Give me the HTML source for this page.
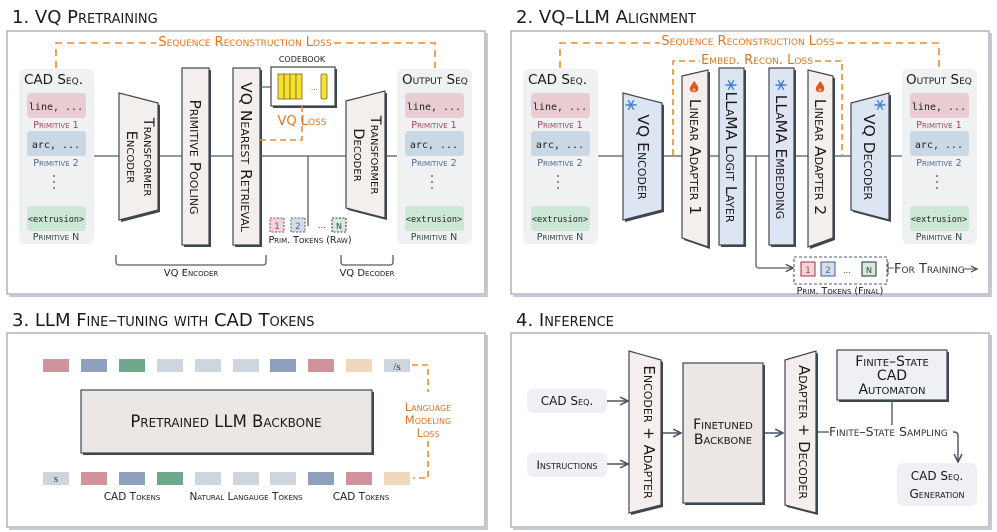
<!DOCTYPE html>
<html><head><meta charset="utf-8"><style>
html,body{margin:0;padding:0;background:#fff;}
svg{display:block;font-family:"DejaVu Sans","Liberation Sans",sans-serif;}
.sc{font-variant:small-caps;}
.mono{font-family:"DejaVu Sans Mono","Liberation Mono",monospace;}
</style></head><body>
<svg width="997" height="532" viewBox="0 0 997 532" xmlns="http://www.w3.org/2000/svg">
<defs>
<marker id="ar" viewBox="0 0 10 10" refX="9" refY="5" markerWidth="7" markerHeight="7" orient="auto"><path d="M1,1 L9,5 L1,9" fill="none" stroke="#4a5260" stroke-width="1.6"/></marker>
<g id="snow" stroke="#3d7fd0" stroke-width="1.4" stroke-linecap="round"><line x1="-5" y1="0" x2="5" y2="0"/><line x1="-2.5" y1="-4.3" x2="2.5" y2="4.3"/><line x1="2.5" y1="-4.3" x2="-2.5" y2="4.3"/></g>
<g id="fire"><path d="M0,-6 C3,-2 5,0 4,3 C3,6 -3,6 -4,3 C-5,0 -2,-2 0,-6Z" fill="#e5502a"/><circle cx="0" cy="3" r="1.6" fill="#f8b040"/></g>
</defs>

<!-- titles -->
<g font-size="18" fill="#1a1a1a" class="sc">
<text x="12" y="23">1. VQ Pretraining</text>
<text x="516" y="23">2. VQ–LLM Alignment</text>
<text x="12" y="326">3. LLM Fine–tuning with CAD Tokens</text>
<text x="516" y="326">4. Inference</text>
</g>

<!-- panel boxes -->
<g fill="#fff" stroke="#9aa2ad" stroke-width="1.2">
<rect x="7" y="31" width="478" height="263" /><rect x="511" y="31" width="478" height="263"/>
<rect x="7" y="333" width="478" height="194"/><rect x="511" y="333" width="478" height="194"/>
</g>
<g stroke="#c5cad2" stroke-width="2" fill="none">
<polyline points="487,33 487,296 9,296"/><polyline points="991,33 991,296 513,296"/>
<polyline points="487,335 487,529 9,529"/><polyline points="991,335 991,529 513,529"/>
</g>

<!-- ===== Panel 1 ===== -->
<path d="M56,68 V43 H156 M334,43 H435 V68" fill="none" stroke="#ef8a2a" stroke-width="1.6" stroke-dasharray="7,5"/>
<text x="245" y="46" text-anchor="middle" font-size="13" fill="#e07622" class="sc">Sequence Reconstruction Loss</text>
<line x1="93" y1="156" x2="397" y2="156" stroke="#555c66" stroke-width="1.3"/>
<line x1="308" y1="156" x2="308" y2="226" stroke="#555c66" stroke-width="1.3"/>

<g id="seq1">
<rect x="19" y="69" width="75" height="175" rx="6" fill="#f0f1f3"/>
<rect x="27" y="93" width="59" height="25" rx="3" fill="#e9cdd2"/>
<rect x="27" y="131" width="59" height="25" rx="3" fill="#c9d8e4"/>
<rect x="27" y="206" width="59" height="25" rx="3" fill="#cde7d6"/>
<text x="56" y="110" text-anchor="middle" font-size="10" class="mono" fill="#222">line, ...</text>
<text x="56" y="148" text-anchor="middle" font-size="10" class="mono" fill="#222">arc, ...</text>
<text x="56" y="222" text-anchor="middle" font-size="8.5" class="mono" fill="#222">&lt;extrusion&gt;</text>
<text x="56" y="128" text-anchor="middle" font-size="9.5" class="sc" fill="#b0405a">Primitive 1</text>
<text x="56" y="166" text-anchor="middle" font-size="9.5" class="sc" fill="#55679a">Primitive 2</text>
<text x="56" y="240" text-anchor="middle" font-size="9.5" class="sc" fill="#2d4a3a">Primitive N</text>
<g fill="#444"><circle cx="54" cy="176" r="0.9"/><circle cx="54" cy="182" r="0.9"/><circle cx="54" cy="188" r="0.9"/></g>
</g>
<text x="24" y="84" font-size="13.5" class="sc" fill="#1a1a1a">CAD Seq.</text>
<use href="#seq1" x="378"/>
<text x="402" y="84" font-size="13.5" class="sc" fill="#1a1a1a">Output Seq</text>

<!-- shadows -->
<g fill="#3f4650">
<polygon points="121,95 160,105 160,212 121,222"/>
<rect x="184" y="70" width="27" height="177"/><rect x="235" y="70" width="27" height="177"/>
<polygon points="348,103 387,93 387,220 348,210"/>
</g>
<g fill="#f4efed" stroke="#3f4650" stroke-width="1.2">
<polygon points="119,93 158,103 158,210 119,220"/>
<rect x="182" y="68" width="27" height="177"/><rect x="233" y="68" width="27" height="177"/>
<polygon points="346,101 385,91 385,218 346,208"/>
</g>
<g font-size="14.5" class="sc" fill="#1a1a1a" text-anchor="middle">
<text transform="translate(144,157) rotate(90)">Transformer</text>
<text transform="translate(127,157) rotate(90)">Encoder</text>
<text transform="translate(371,155) rotate(90)">Transformer</text>
<text transform="translate(354,155) rotate(90)">Decoder</text>
</g>
<g font-size="15.5" class="sc" fill="#1a1a1a" text-anchor="middle">
<text transform="translate(190,157) rotate(90)">Primitive Pooling</text>
<text transform="translate(241,157) rotate(90)">VQ Nearest Retrieval</text>
</g>
<!-- codebook -->
<text x="302" y="62" text-anchor="middle" font-size="8" fill="#222">CODEBOOK</text>
<line x1="260" y1="87" x2="271" y2="87" stroke="#555c66" stroke-width="1.2"/>
<rect x="273" y="69" width="64" height="39" fill="#3f4650"/>
<rect x="271" y="67" width="64" height="39" fill="#fff" stroke="#3f4650" stroke-width="1.2"/>
<g fill="#f6e130" stroke="#7a6a10" stroke-width="0.8">
<rect x="278" y="74" width="6" height="25"/><rect x="284" y="74" width="6" height="25"/><rect x="290" y="74" width="6" height="25"/><rect x="296" y="74" width="6" height="25"/><rect x="321" y="74" width="6" height="25" rx="1.5"/>
</g>
<text x="311" y="90" font-size="7" fill="#333">...</text>
<path d="M302,106 V140 H260" fill="none" stroke="#ef8a2a" stroke-width="1.6" stroke-dasharray="6,4"/>
<text x="302" y="125" text-anchor="middle" font-size="13" fill="#e07622" class="sc">VQ Loss</text>
<!-- raw tokens -->
<g stroke-dasharray="2,1.5" stroke-width="1.1" font-size="9">
<rect x="270" y="218" width="14" height="14" fill="#efd5d8" stroke="#b0405a"/><text x="277" y="229" text-anchor="middle" fill="#b0405a">1</text>
<rect x="291" y="218" width="14" height="14" fill="#d3deea" stroke="#55679a"/><text x="298" y="229" text-anchor="middle" fill="#55679a">2</text>
<rect x="332" y="218" width="14" height="14" fill="#d6eadd" stroke="#2d4a3a"/><text x="339" y="229" text-anchor="middle" fill="#2d4a3a" font-size="8">N</text>
</g>
<text x="318" y="228" font-size="8" fill="#333">...</text>
<text x="310" y="243" text-anchor="middle" font-size="9.5" class="sc" fill="#222">Prim. Tokens (Raw)</text>
<!-- braces -->
<path d="M116,255 V262 Q116,265 119,265 H263 Q266,265 266,262 V255" fill="none" stroke="#555c66" stroke-width="1.3"/>
<path d="M341,255 V262 Q341,265 344,265 H390 Q393,265 393,262 V255" fill="none" stroke="#555c66" stroke-width="1.3"/>
<text x="191" y="276" text-anchor="middle" font-size="10" class="sc" fill="#222">VQ Encoder</text>
<text x="367" y="276" text-anchor="middle" font-size="10" class="sc" fill="#222">VQ Decoder</text>

<!-- ===== Panel 2 ===== -->
<path d="M560,68 V43 H660 M836,43 H939 V68" fill="none" stroke="#ef8a2a" stroke-width="1.6" stroke-dasharray="7,5"/>
<text x="748" y="45" text-anchor="middle" font-size="13" fill="#e07622" class="sc">Sequence Reconstruction Loss</text>
<path d="M673,155 V61 H700 M815,61 H842 V155" fill="none" stroke="#ef8a2a" stroke-width="1.6" stroke-dasharray="6,4"/>
<text x="757" y="64" text-anchor="middle" font-size="13" fill="#e07622" class="sc">Embed. Recon. Loss</text>
<line x1="598" y1="156" x2="902" y2="156" stroke="#555c66" stroke-width="1.3"/>
<path d="M756,156 V265 Q756,268 759,268 H793" fill="none" stroke="#555c66" stroke-width="1.3" marker-end="url(#ar)"/>

<use href="#seq1" x="504"/>
<text x="528" y="84" font-size="13.5" class="sc" fill="#1a1a1a">CAD Seq.</text>
<use href="#seq1" x="883"/>
<text x="906" y="84" font-size="13.5" class="sc" fill="#1a1a1a">Output Seq</text>

<g fill="#3f4650">
<polygon points="625,95 664,105 664,212 625,222"/>
<polygon points="684,78 710,72 710,249 684,240"/>
<rect x="721" y="70" width="25" height="177"/><rect x="771" y="70" width="25" height="177"/>
<polygon points="810,72 835,78 835,240 810,249"/>
<polygon points="853,105 891,95 891,222 853,212"/>
</g>
<polygon points="623,93 662,103 662,210 623,220" fill="#dde5f2" stroke="#3f4650" stroke-width="1.2"/>
<polygon points="682,76 708,70 708,247 682,238" fill="#f5efeb" stroke="#3f4650" stroke-width="1.2"/>
<rect x="719" y="68" width="25" height="177" fill="#dde5f2" stroke="#3f4650" stroke-width="1.2"/>
<rect x="769" y="68" width="25" height="177" fill="#dde5f2" stroke="#3f4650" stroke-width="1.2"/>
<polygon points="808,70 833,76 833,238 808,247" fill="#f5efeb" stroke="#3f4650" stroke-width="1.2"/>
<polygon points="851,103 889,93 889,220 851,210" fill="#dde5f2" stroke="#3f4650" stroke-width="1.2"/>
<use href="#snow" x="631" y="105"/><use href="#snow" x="731" y="85"/><use href="#snow" x="781" y="85"/><use href="#snow" x="880" y="105"/>
<use href="#fire" x="694" y="87"/><use href="#fire" x="820" y="87"/>
<g font-size="15.5" class="sc" fill="#1a1a1a" text-anchor="middle">
<text transform="translate(638,157) rotate(90)">VQ Encoder</text>
<text transform="translate(690,157) rotate(90)">Linear Adapter 1</text>
<text transform="translate(726,157) rotate(90)">LLaMA Logit Layer</text>
<text transform="translate(776,157) rotate(90)">LLaMA Embedding</text>
<text transform="translate(815,157) rotate(90)">Linear Adapter 2</text>
<text transform="translate(864,157) rotate(90)">VQ Decoder</text>
</g>
<rect x="794" y="257" width="93" height="27" fill="none" stroke="#555c66" stroke-width="1.1" stroke-dasharray="3,2"/>
<g stroke-width="1.1" font-size="9">
<rect x="801" y="262" width="14" height="14" fill="#efd5d8" stroke="#b0405a"/><text x="808" y="273" text-anchor="middle" fill="#b0405a">1</text>
<rect x="821" y="262" width="14" height="14" fill="#d3deea" stroke="#55679a"/><text x="828" y="273" text-anchor="middle" fill="#55679a">2</text>
<rect x="862" y="262" width="14" height="14" fill="#d6eadd" stroke="#2d4a3a"/><text x="869" y="273" text-anchor="middle" fill="#2d4a3a" font-size="8">N</text>
</g>
<text x="843" y="273" font-size="8" fill="#333">...</text>
<path d="M888,262 V275 M888,268 H894" stroke="#555c66" stroke-width="1.1" fill="none"/>
<text x="894" y="273" font-size="13" class="sc" fill="#333">For Training</text>
<line x1="963" y1="269" x2="977" y2="269" stroke="#555c66" stroke-width="1.1" marker-end="url(#ar)"/>
<text x="840" y="294" text-anchor="middle" font-size="9.5" class="sc" fill="#222">Prim. Tokens (Final)</text>

<!-- ===== Panel 3 ===== -->
<g>
<rect x="43" y="359" width="26" height="13" fill="#d0939b"/><rect x="81" y="359" width="26" height="13" fill="#8fa0bd"/>
<rect x="119" y="359" width="26" height="13" fill="#6fa88d"/><rect x="157" y="359" width="26" height="13" fill="#cfd5de"/>
<rect x="195" y="359" width="26" height="13" fill="#cfd5de"/><rect x="233" y="359" width="26" height="13" fill="#cfd5de"/>
<rect x="270" y="359" width="26" height="13" fill="#8fa0bd"/><rect x="308" y="359" width="26" height="13" fill="#d0939b"/>
<rect x="346" y="359" width="26" height="13" fill="#efd8bb"/><rect x="384" y="359" width="26" height="13" fill="#cfd5de"/>
<text x="397" y="370" text-anchor="middle" font-size="11" font-family="Liberation Serif" fill="#333">/s</text>
<rect x="43" y="472" width="26" height="13" fill="#cfd5de"/>
<text x="56" y="482" text-anchor="middle" font-size="11" font-family="Liberation Serif" fill="#333">s</text>
<rect x="81" y="472" width="26" height="13" fill="#d0939b"/><rect x="119" y="472" width="26" height="13" fill="#8fa0bd"/>
<rect x="157" y="472" width="26" height="13" fill="#6fa88d"/><rect x="195" y="472" width="26" height="13" fill="#cfd5de"/>
<rect x="233" y="472" width="26" height="13" fill="#cfd5de"/><rect x="270" y="472" width="26" height="13" fill="#cfd5de"/>
<rect x="308" y="472" width="26" height="13" fill="#8fa0bd"/><rect x="346" y="472" width="26" height="13" fill="#d0939b"/>
<rect x="384" y="472" width="26" height="13" fill="#efd8bb"/>
</g>
<rect x="83" y="392" width="291" height="63" fill="#3f4650"/>
<rect x="81" y="390" width="291" height="63" fill="#ebe7e4" stroke="#3f4650" stroke-width="1.2"/>
<text x="226" y="427" text-anchor="middle" font-size="16.5" class="sc" fill="#1a1a1a">Pretrained LLM Backbone</text>
<g font-size="10.5" class="sc" fill="#222" text-anchor="middle">
<text x="132" y="500">CAD Tokens</text><text x="246" y="500">Natural Langauge Tokens</text><text x="361" y="500">CAD Tokens</text>
</g>
<path d="M412,365 H428 V392 M428,441 V478 H413" fill="none" stroke="#ef8a2a" stroke-width="1.6" stroke-dasharray="6,4"/>
<g font-size="11.5" class="sc" fill="#e07622" text-anchor="middle">
<text x="428" y="411">Language</text><text x="428" y="424">Modeling</text><text x="428" y="437">Loss</text>
</g>

<!-- ===== Panel 4 ===== -->
<rect x="527" y="389" width="80" height="24" rx="5" fill="#eef0f3"/>
<text x="567" y="405" text-anchor="middle" font-size="12" class="sc" fill="#1a1a1a">CAD Seq.</text>
<rect x="527" y="453" width="80" height="24" rx="5" fill="#eef0f3"/>
<text x="567" y="469" text-anchor="middle" font-size="11.5" class="sc" fill="#1a1a1a">Instructions</text>
<g stroke="#4a5260" stroke-width="1.4" fill="none" marker-end="url(#ar)">
<line x1="607" y1="401" x2="628" y2="401"/><line x1="607" y1="464" x2="628" y2="464"/>
<line x1="662" y1="433" x2="681" y2="433"/><line x1="764" y1="433" x2="783" y2="433"/>
<path d="M953,432 H954 Q958,432 958,436 V462"/>
</g>
<g fill="#3f4650">
<polygon points="631,353 663,362 663,507 631,515"/><rect x="685" y="365" width="80" height="140"/>
<polygon points="787,362 818,353 818,515 787,507"/><rect x="839" y="352" width="110" height="50"/>
</g>
<polygon points="629,351 661,360 661,505 629,513" fill="#f4efed" stroke="#3f4650" stroke-width="1.2"/>
<rect x="683" y="363" width="80" height="140" fill="#ebe7e4" stroke="#3f4650" stroke-width="1.2"/>
<polygon points="785,360 816,351 816,513 785,505" fill="#f4efed" stroke="#3f4650" stroke-width="1.2"/>
<rect x="837" y="350" width="110" height="50" fill="#eef0f3" stroke="#3f4650" stroke-width="1.2"/>
<g font-size="15" class="sc" fill="#1a1a1a" text-anchor="middle">
<text transform="translate(644,432) rotate(90)">Encoder + Adapter</text>
<text transform="translate(799,432) rotate(90)">Adapter + Decoder</text>
</g>
<g font-size="14" class="sc" fill="#1a1a1a" text-anchor="middle">
<text x="723" y="429">Finetuned</text><text x="723" y="444">Backbone</text>
<text x="892" y="366">Finite–State</text><text x="892" y="380">CAD</text><text x="892" y="394">Automaton</text>
</g>
<line x1="892" y1="400" x2="892" y2="425" stroke="#4a5260" stroke-width="1.3"/>
<line x1="817" y1="432" x2="829" y2="432" stroke="#4a5260" stroke-width="1.3"/>
<text x="829" y="436" font-size="12.5" class="sc" fill="#333">Finite–State Sampling</text>
<rect x="897" y="463" width="80" height="43" rx="6" fill="#eef0f3"/>
<g font-size="12" class="sc" fill="#1a1a1a" text-anchor="middle"><text x="937" y="480">CAD Seq.</text><text x="937" y="498">Generation</text></g>
</svg>
</body></html>
